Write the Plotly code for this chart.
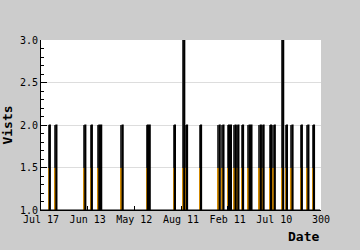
import plotly.graph_objects as go

# Data: 300 daily points, baseline 1 visit
n_points = 300
spike_idx = [9, 16, 47, 54, 62, 64, 87, 114, 116, 143, 153, 156, 171, 191, 195,
             201, 203, 208, 211, 216, 223, 225, 235, 238, 246, 250, 259, 263,
             269, 279, 286, 292]
spike_val = [2, 2, 2, 2, 2, 2, 2, 2, 2, 2, 3, 2, 2, 2, 2,
             2, 2, 2, 2, 2, 2, 2, 2, 2, 2, 2, 3, 2,
             2, 2, 2, 2]
tick_vals = [0, 50, 100, 150, 200, 250, 300]
tick_text = ["Jul 17", "Jun 13", "May 12", "Aug 11", "Feb 11", "Jul 10", "300"]

visits = [1] * n_points
for i, v in zip(spike_idx, spike_val):
    visits[i] = v
xs = list(range(n_points))
y_min = 1.0
mid = 1.5

fig = go.Figure()
# fill: dark upper part
fig.add_trace(go.Bar(
    x=xs, y=[v - y_min for v in visits], base=y_min,
    width=1.8, offset=-1.5,
    marker=dict(color="#404040", line=dict(width=0)),
    hoverinfo="skip", showlegend=False,
))
# fill: orange lower part
fig.add_trace(go.Bar(
    x=xs, y=[min(v, mid) - y_min for v in visits], base=y_min,
    width=1.8, offset=-1.5,
    marker=dict(color="#d08800", line=dict(width=0)),
    hoverinfo="skip", showlegend=False,
))
# black outline
fig.add_trace(go.Scatter(
    x=xs, y=visits, mode="lines",
    line=dict(color="black", width=1.2, shape="hv"),
    hoverinfo="skip", showlegend=False,
))

mono = "DejaVu Sans Mono"
fig.update_layout(
    width=360, height=250,
    margin=dict(l=41, r=39, t=40, b=40),
    barmode="overlay", bargap=0,
    paper_bgcolor="#cccccc", plot_bgcolor="white",
    font=dict(family=mono, size=10, color="black"),
    xaxis=dict(range=[0, 300], tickvals=tick_vals, ticktext=tick_text,
               showgrid=False, zeroline=False, showline=True, linecolor="black",
               linewidth=1, ticks="inside", ticklen=4, tickcolor="black",
               automargin=False, tickfont=dict(family=mono, size=10)),
    yaxis=dict(range=[1, 3], dtick=0.5, tickformat=".1f",
               showgrid=True, gridcolor="#dddddd", zeroline=False,
               showline=True, linecolor="black", linewidth=1,
               ticks="inside", ticklen=6, tickcolor="black", automargin=False,
               minor=dict(dtick=0.1, ticks="inside", ticklen=3, tickcolor="black", showgrid=False),
               tickfont=dict(family=mono, size=10),
               title=dict(text="Vists", font=dict(family=mono, size=13, weight="bold"), standoff=4)),
    annotations=[dict(text="<b>Date</b>", xref="paper", yref="paper", x=1, y=-0.155,
                      xanchor="right", yanchor="middle", showarrow=False,
                      font=dict(family=mono, size=13))],
)
fig.write_html("out.html")
